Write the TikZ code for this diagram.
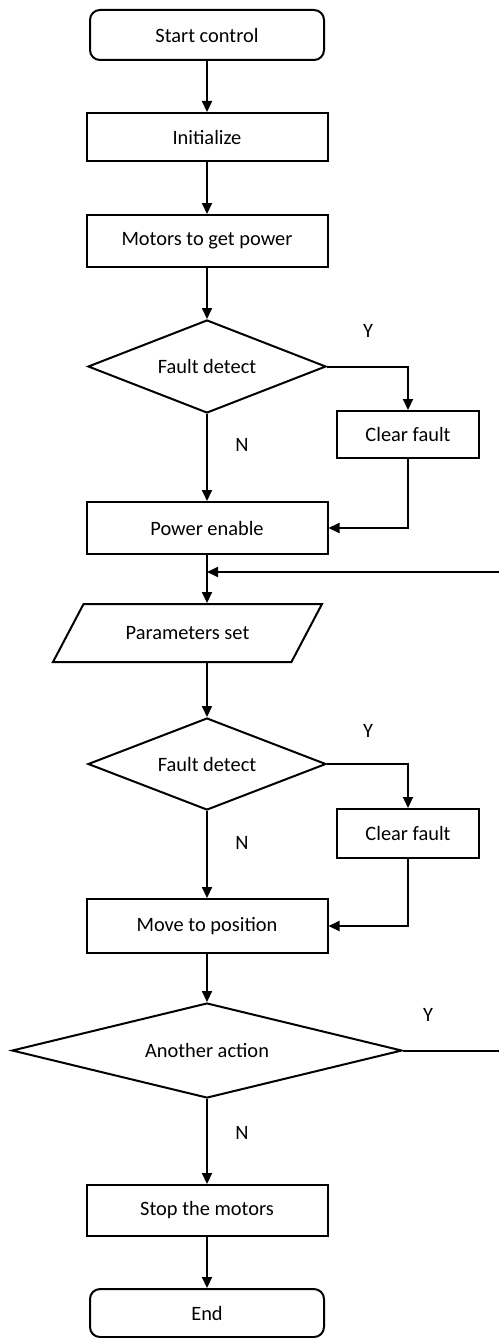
\documentclass[tikz,border=0pt]{standalone}
\usepackage{fontspec}
\setmainfont{Carlito}
\usetikzlibrary{arrows.meta,positioning,shapes.geometric}

\begin{document}
\begin{tikzpicture}[x=0.5pt, y=-0.5pt, line width=1pt, >={Triangle[length=5.5pt,width=5pt]}, node distance=25.5pt,
    every node/.style={align=center, font=\fontsize{10.2}{12}\selectfont},
    term/.style={draw, rounded corners=5pt, minimum width=117pt, minimum height=25pt},
    proc/.style={draw, minimum width=120.5pt, minimum height=26pt},
    fixbox/.style={draw, minimum width=71pt, minimum height=23.5pt},
    decide/.style={draw, diamond, aspect=4, inner sep=0pt, minimum width=119pt, minimum height=46.5pt},
    inout/.style={draw, trapezium, trapezium left angle=41, trapezium right angle=139, trapezium stretches body, minimum width=134.5pt, minimum height=29pt},
    yn/.style={inner sep=0pt}]
  \useasboundingbox (0,0) rectangle (499,1338);
  % main column
  \node[term] (start) at (207,35) {Start control};
  \node[proc, minimum height=24pt, below=of start] (init) {Initialize};
  \node[proc, below=26pt of init] (motors) {Motors to get power};
  \node[decide, below=of motors] (fd1) {Fault detect};
  \node[proc, below=43.5pt of fd1] (power) {Power enable};
  \node[inout, below=24pt of power, xshift=-9.75pt] (params) {Parameters set};
  \coordinate (pbot) at (params.south -| power.south);
  \node[decide, minimum height=46pt, below=27pt of pbot] (fd2) {Fault detect};
  \node[proc, minimum height=27pt, below=43.5pt of fd2] (move) {Move to position};
  \node[decide, minimum width=195pt, minimum height=47.5pt, below=24pt of move] (act) {Another action};
  \node[proc, minimum height=25.5pt, below=42.5pt of act] (stop) {Stop the motors};
  \node[term, minimum height=24pt, below=25.5pt of stop] (finish) {End};
  % side branches
  \node[fixbox] (clr1) at (408,434.5) {Clear fault};
  \node[fixbox, minimum height=24.5pt] (clr2) at (408,833.5) {Clear fault};
  \coordinate (loopin) at (499,572);
  \coordinate (loopout) at (act.east -| loopin);
  % labels
  \node[yn] (y1) at (368,331) {Y};
  \node[yn] (n1) at (242,445) {N};
  \node[yn] (y2) at (368,731) {Y};
  \node[yn] (n2) at (242,843) {N};
  \node[yn] (y3) at (428,1015) {Y};
  \node[yn] (n3) at (242,1133) {N};
  % connectors
  \draw[->] (start) -- (init);
  \draw[->] (init) -- (motors);
  \draw[->] (motors) -- (fd1);
  \draw[->] (fd1.east) -| (clr1.north);
  \draw[->] (fd1) -- (power);
  \draw[->] (clr1.south) |- (power.east);
  \draw[->] (power.south) -- (power.south |- params.north);
  \draw[->] (loopin) -- (power.south |- loopin);
  \draw[->] (pbot) -- (fd2);
  \draw[->] (fd2.east) -| (clr2.north);
  \draw[->] (fd2) -- (move);
  \draw[->] (clr2.south) |- (move.east);
  \draw[->] (move) -- (act);
  \draw (act.east) -- (loopout);
  \draw[->] (act) -- (stop);
  \draw[->] (stop) -- (finish);
\end{tikzpicture}
\end{document}
